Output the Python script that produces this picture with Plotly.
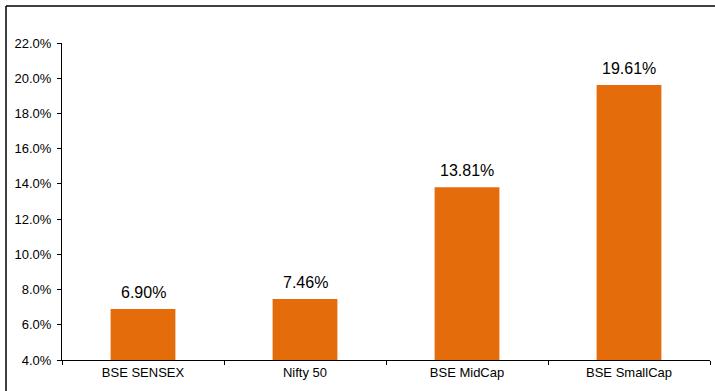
import plotly.graph_objects as go

categories = ["BSE SENSEX", "Nifty 50", "BSE MidCap", "BSE SmallCap"]
returns_pct = [6.90, 7.46, 13.81, 19.61]
y_ticks = [4, 6, 8, 10, 12, 14, 16, 18, 20, 22]

W, H = 715, 391
ML, MR, MT, MB = 62, 5, 43, 31
pw, ph = W - ML - MR, H - MT - MB
FONT = "Liberation Sans, Arial"

fig = go.Figure(go.Bar(
    x=categories, y=returns_pct, width=0.4,
    marker=dict(color="#E46C0A", line=dict(width=0)),
))

for c, v in zip(categories, returns_pct):
    fig.add_annotation(x=c, y=v, text=f"{v:.2f}%", showarrow=False,
                       yanchor="bottom", yshift=6,
                       font=dict(family=FONT, size=16, color="#000"))

bx = (6 - ML) / pw
by = (H - MB - 6) / ph
fig.add_shape(type="line", xref="paper", yref="paper", x0=bx, x1=bx, y0=-0.3, y1=by,
              line=dict(color="#000", width=1.5))
fig.add_shape(type="line", xref="paper", yref="paper", x0=bx, x1=1.2, y0=by, y1=by,
              line=dict(color="#000", width=1.5))

fig.update_layout(
    width=W, height=H, margin=dict(l=ML, r=MR, t=MT, b=MB),
    paper_bgcolor="white", plot_bgcolor="white", showlegend=False,
    font=dict(family=FONT, color="#000"),
)
fig.update_yaxes(range=[4, 22], tickmode="array", tickvals=y_ticks,
                 ticktext=[f"{v:.1f}%" for v in y_ticks],
                 showgrid=False, zeroline=False, showline=True, linecolor="#000", linewidth=1,
                 ticks="outside", ticklen=4, tickcolor="#000", ticklabelstandoff=3,
                 tickfont=dict(size=13))
fig.update_xaxes(range=[-0.5, 3.5], showgrid=False, showline=True, linecolor="#000", linewidth=1,
                 ticks="outside", tickson="boundaries", ticklen=4, tickcolor="#000",
                 tickfont=dict(size=13))

fig.write_html("out.html")
